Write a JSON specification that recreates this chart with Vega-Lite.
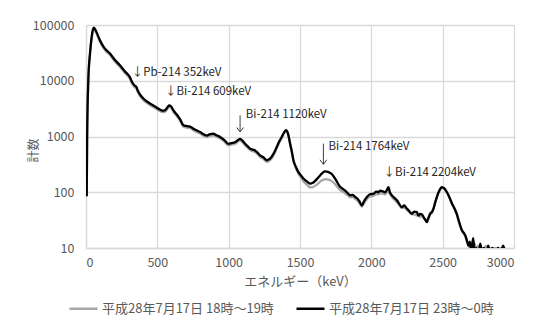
{
  "$schema": "https://vega.github.io/schema/vega-lite/v6.json",
  "width": 428,
  "height": 223,
  "autosize": "none",
  "padding": {"left": 86, "top": 25, "right": 25, "bottom": 79},
  "background": "#ffffff",
  "config": {
    "font": "Noto Sans CJK JP",
    "view": {"stroke": null},
    "axis": {
      "labelFont": "Noto Sans CJK JP",
      "labelFontSize": 12.5,
      "labelColor": "#595959",
      "titleFont": "Noto Sans CJK JP",
      "titleFontWeight": "normal",
      "titleColor": "#595959",
      "gridColor": "#d9d9d9",
      "gridWidth": 1.3,
      "domainColor": "#d9d9d9",
      "domainWidth": 1.3,
      "ticks": false
    }
  },
  "data": {
    "values": [
      {"E": 5, "h18": 85, "h23": 85},
      {"E": 8, "h18": 950, "h23": 1000},
      {"E": 16, "h18": 9500, "h23": 10000},
      {"E": 28, "h18": 29500, "h23": 31000},
      {"E": 40, "h18": 59000, "h23": 62000},
      {"E": 50, "h18": 82000, "h23": 85000},
      {"E": 56, "h18": 87000, "h23": 90000},
      {"E": 70, "h18": 74000, "h23": 78000},
      {"E": 98, "h18": 50000, "h23": 53000},
      {"E": 120, "h18": 39500, "h23": 42000},
      {"E": 140, "h18": 33800, "h23": 36000},
      {"E": 168, "h18": 28900, "h23": 30700},
      {"E": 200, "h18": 22500, "h23": 24000},
      {"E": 238, "h18": 17700, "h23": 18900},
      {"E": 270, "h18": 14100, "h23": 15000},
      {"E": 309, "h18": 10700, "h23": 11400},
      {"E": 320, "h18": 9200, "h23": 9800},
      {"E": 340, "h18": 7700, "h23": 8200},
      {"E": 352, "h18": 7300, "h23": 7800},
      {"E": 365, "h18": 6100, "h23": 6500},
      {"E": 402, "h18": 4500, "h23": 4790},
      {"E": 430, "h18": 3950, "h23": 4200},
      {"E": 449, "h18": 3650, "h23": 3900},
      {"E": 480, "h18": 3290, "h23": 3500},
      {"E": 519, "h18": 2850, "h23": 3030},
      {"E": 540, "h18": 2730, "h23": 2900},
      {"E": 554, "h18": 2780, "h23": 2960},
      {"E": 570, "h18": 3100, "h23": 3300},
      {"E": 582, "h18": 3380, "h23": 3600},
      {"E": 595, "h18": 3290, "h23": 3500},
      {"E": 612, "h18": 2780, "h23": 2960},
      {"E": 635, "h18": 2350, "h23": 2500},
      {"E": 659, "h18": 1930, "h23": 2050},
      {"E": 683, "h18": 1490, "h23": 1590},
      {"E": 700, "h18": 1460, "h23": 1550},
      {"E": 718, "h18": 1430, "h23": 1520},
      {"E": 735, "h18": 1390, "h23": 1480},
      {"E": 753, "h18": 1300, "h23": 1380},
      {"E": 775, "h18": 1210, "h23": 1290},
      {"E": 800, "h18": 1130, "h23": 1200},
      {"E": 823, "h18": 1030, "h23": 1100},
      {"E": 846, "h18": 980, "h23": 1040},
      {"E": 870, "h18": 1030, "h23": 1100},
      {"E": 893, "h18": 1050, "h23": 1120},
      {"E": 915, "h18": 990, "h23": 1050},
      {"E": 940, "h18": 920, "h23": 980},
      {"E": 970, "h18": 810, "h23": 860},
      {"E": 998, "h18": 695, "h23": 740},
      {"E": 1020, "h18": 715, "h23": 760},
      {"E": 1045, "h18": 740, "h23": 790},
      {"E": 1065, "h18": 810, "h23": 860},
      {"E": 1080, "h18": 855, "h23": 910},
      {"E": 1095, "h18": 800, "h23": 850},
      {"E": 1115, "h18": 695, "h23": 740},
      {"E": 1135, "h18": 620, "h23": 660},
      {"E": 1150, "h18": 570, "h23": 605},
      {"E": 1170, "h18": 545, "h23": 580},
      {"E": 1185, "h18": 525, "h23": 560},
      {"E": 1200, "h18": 490, "h23": 520},
      {"E": 1220, "h18": 430, "h23": 460},
      {"E": 1245, "h18": 395, "h23": 420},
      {"E": 1267, "h18": 350, "h23": 375},
      {"E": 1280, "h18": 360, "h23": 385},
      {"E": 1300, "h18": 400, "h23": 430},
      {"E": 1320, "h18": 490, "h23": 520},
      {"E": 1337, "h18": 615, "h23": 650},
      {"E": 1355, "h18": 780, "h23": 820},
      {"E": 1372, "h18": 940, "h23": 980},
      {"E": 1390, "h18": 1160, "h23": 1200},
      {"E": 1402, "h18": 1260, "h23": 1300},
      {"E": 1415, "h18": 1110, "h23": 1150},
      {"E": 1431, "h18": 710, "h23": 740},
      {"E": 1445, "h18": 480, "h23": 500},
      {"E": 1454, "h18": 360, "h23": 375},
      {"E": 1470, "h18": 275, "h23": 290},
      {"E": 1489, "h18": 215, "h23": 230},
      {"E": 1510, "h18": 178, "h23": 195},
      {"E": 1524, "h18": 158, "h23": 176},
      {"E": 1550, "h18": 135, "h23": 155},
      {"E": 1571, "h18": 122, "h23": 143},
      {"E": 1590, "h18": 124, "h23": 148},
      {"E": 1606, "h18": 130, "h23": 160},
      {"E": 1625, "h18": 142, "h23": 180},
      {"E": 1641, "h18": 155, "h23": 200},
      {"E": 1660, "h18": 166, "h23": 225},
      {"E": 1676, "h18": 172, "h23": 237},
      {"E": 1700, "h18": 168, "h23": 230},
      {"E": 1720, "h18": 160, "h23": 215},
      {"E": 1746, "h18": 140, "h23": 176},
      {"E": 1765, "h18": 122, "h23": 145},
      {"E": 1781, "h18": 110, "h23": 125},
      {"E": 1800, "h18": 102, "h23": 115},
      {"E": 1816, "h18": 96, "h23": 107},
      {"E": 1835, "h18": 88, "h23": 96},
      {"E": 1852, "h18": 81, "h23": 88},
      {"E": 1870, "h18": 82, "h23": 90},
      {"E": 1887, "h18": 76, "h23": 82},
      {"E": 1900, "h18": 72, "h23": 78},
      {"E": 1915, "h18": 64, "h23": 70},
      {"E": 1934, "h18": 55, "h23": 58},
      {"E": 1945, "h18": 61, "h23": 66},
      {"E": 1969, "h18": 75, "h23": 82},
      {"E": 1990, "h18": 84, "h23": 92},
      {"E": 2015, "h18": 86, "h23": 94},
      {"E": 2035, "h18": 93, "h23": 103},
      {"E": 2050, "h18": 92, "h23": 100},
      {"E": 2062, "h18": 97, "h23": 107},
      {"E": 2080, "h18": 95, "h23": 104},
      {"E": 2097, "h18": 92, "h23": 100},
      {"E": 2110, "h18": 100, "h23": 112},
      {"E": 2120, "h18": 108, "h23": 123},
      {"E": 2130, "h18": 94, "h23": 100},
      {"E": 2144, "h18": 82, "h23": 88},
      {"E": 2160, "h18": 74, "h23": 80},
      {"E": 2179, "h18": 66, "h23": 72},
      {"E": 2195, "h18": 60, "h23": 62},
      {"E": 2214, "h18": 52, "h23": 54},
      {"E": 2230, "h18": 53, "h23": 58},
      {"E": 2249, "h18": 48, "h23": 51},
      {"E": 2265, "h18": 44, "h23": 46},
      {"E": 2284, "h18": 40, "h23": 41},
      {"E": 2300, "h18": 40, "h23": 45},
      {"E": 2319, "h18": 38, "h23": 44},
      {"E": 2330, "h18": 40, "h23": 38},
      {"E": 2343, "h18": 36, "h23": 41},
      {"E": 2355, "h18": 38, "h23": 40},
      {"E": 2366, "h18": 34, "h23": 36},
      {"E": 2378, "h18": 33, "h23": 32},
      {"E": 2389, "h18": 31, "h23": 29},
      {"E": 2400, "h18": 36, "h23": 34},
      {"E": 2413, "h18": 43, "h23": 41},
      {"E": 2425, "h18": 45, "h23": 44},
      {"E": 2436, "h18": 52, "h23": 51},
      {"E": 2447, "h18": 64, "h23": 65},
      {"E": 2459, "h18": 80, "h23": 82},
      {"E": 2475, "h18": 102, "h23": 105},
      {"E": 2494, "h18": 120, "h23": 123},
      {"E": 2505, "h18": 118, "h23": 120},
      {"E": 2518, "h18": 110, "h23": 112},
      {"E": 2530, "h18": 98, "h23": 100},
      {"E": 2541, "h18": 86, "h23": 88},
      {"E": 2553, "h18": 74, "h23": 75},
      {"E": 2565, "h18": 62, "h23": 63},
      {"E": 2577, "h18": 54, "h23": 55},
      {"E": 2588, "h18": 46, "h23": 48},
      {"E": 2600, "h18": 39, "h23": 40},
      {"E": 2611, "h18": 31, "h23": 32},
      {"E": 2622, "h18": 25, "h23": 26},
      {"E": 2634, "h18": 21, "h23": 21},
      {"E": 2646, "h18": 18, "h23": 19},
      {"E": 2658, "h18": 16, "h23": 17},
      {"E": 2669, "h18": 13, "h23": 14},
      {"E": 2680, "h18": 12, "h23": 11},
      {"E": 2690, "h18": 10, "h23": 13},
      {"E": 2700, "h18": 11, "h23": 9},
      {"E": 2714, "h18": 9, "h23": 15},
      {"E": 2725, "h18": 12, "h23": 8},
      {"E": 2735, "h18": 9, "h23": 10},
      {"E": 2750, "h18": 11, "h23": 7},
      {"E": 2763, "h18": 8, "h23": 12},
      {"E": 2775, "h18": 10, "h23": 9},
      {"E": 2791, "h18": 9, "h23": 10},
      {"E": 2805, "h18": 11, "h23": 7},
      {"E": 2819, "h18": 8, "h23": 11},
      {"E": 2835, "h18": 10, "h23": 8},
      {"E": 2847, "h18": 9, "h23": 10},
      {"E": 2870, "h18": 10, "h23": 9},
      {"E": 2889, "h18": 8, "h23": 10},
      {"E": 2905, "h18": 10, "h23": 8},
      {"E": 2924, "h18": 9, "h23": 11},
      {"E": 2935, "h18": 10, "h23": 9}
    ]
  },
  "layer": [
    {
      "transform": [{"fold": ["h18", "h23"], "as": ["series", "count"]}],
      "mark": {"type": "line", "strokeWidth": 2.3, "clip": true, "interpolate": "monotone"},
      "encoding": {
        "x": {
          "field": "E",
          "type": "quantitative",
          "scale": {"domain": [0, 3000], "nice": false},
          "axis": {
            "values": [0, 500, 1000, 1500, 2000, 2500, 3000],
            "format": "d",
            "title": "エネルギー（keV）",
            "titleFontSize": 13,
            "titlePadding": 7,
            "labelPadding": 8,
            "grid": true
          }
        },
        "y": {
          "field": "count",
          "type": "quantitative",
          "scale": {"type": "log", "domain": [10, 100000], "nice": false},
          "axis": {
            "values": [10, 100, 1000, 10000, 100000],
            "format": "d",
            "title": "計数",
            "titleFontSize": 12,
            "titleAngle": -90,
            "titleAlign": "center",
            "titleBaseline": "middle",
            "titleX": -53,
            "titleY": 125,
            "labelPadding": 12,
            "grid": true
          }
        },
        "color": {
          "field": "series",
          "type": "nominal",
          "scale": {"domain": ["h18", "h23"], "range": ["#a6a6a6", "#000000"]},
          "legend": {
            "title": null,
            "orient": "none",
            "direction": "horizontal",
            "legendX": -18,
            "legendY": 268,
            "symbolType": "stroke",
            "symbolSize": 784,
            "symbolStrokeWidth": 2.5,
            "labelOffset": 3,
            "labelLimit": 0,
            "columnPadding": 17,
            "labelFontSize": 13,
            "labelColor": "#595959",
            "labelFont": "Noto Sans CJK JP",
            "labelExpr": "datum.label == 'h18' ? '平成28年7月17日 18時～19時' : '平成28年7月17日 23時～0時'"
          }
        }
      }
    },
    {
      "data": {
        "values": [
          {"E": 320, "count": 13600, "note": "↓Pb-214 352keV"},
          {"E": 554, "count": 6280, "note": "↓Bi-214 609keV"},
          {"E": 1120, "count": 2470, "note": "Bi-214 1120keV"},
          {"E": 1700, "count": 650, "note": "Bi-214 1764keV"},
          {"E": 2086, "count": 224, "note": "↓Bi-214 2204keV"}
        ]
      },
      "mark": {"type": "text", "align": "left", "baseline": "middle", "fontSize": 11.5, "color": "#262626", "font": "Noto Sans CJK JP"},
      "encoding": {
        "x": {"field": "E", "type": "quantitative"},
        "y": {"field": "count", "type": "quantitative"},
        "text": {"field": "note"}
      }
    },
    {
      "data": {
        "values": [
          {"E": 1080, "count": 2400, "tip": 1205},
          {"E": 1664, "count": 746, "tip": 317}
        ]
      },
      "layer": [
        {
          "mark": {"type": "rule", "color": "#404040", "strokeWidth": 1},
          "encoding": {
            "x": {"field": "E", "type": "quantitative"},
            "y": {"field": "count", "type": "quantitative"},
            "y2": {"field": "tip"}
          }
        },
        {
          "mark": {"type": "point", "shape": "M-0.9,-1.2L0,0L0.9,-1.2", "filled": false, "size": 56, "color": "#404040", "strokeWidth": 1, "opacity": 1},
          "encoding": {
            "x": {"field": "E", "type": "quantitative"},
            "y": {"field": "tip", "type": "quantitative"}
          }
        }
      ]
    }
  ]
}
